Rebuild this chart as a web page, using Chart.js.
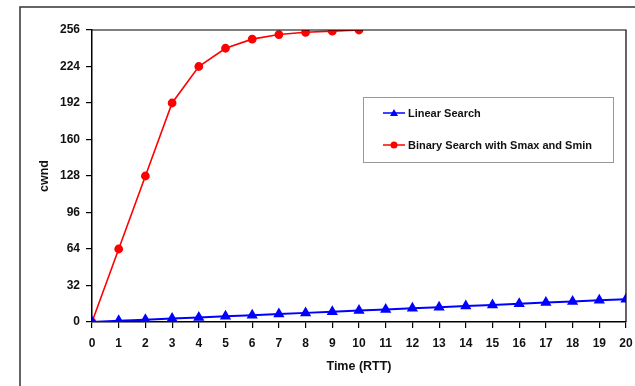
<!DOCTYPE html>
<html>
<head>
<meta charset="utf-8">
<script src="https://cdn.jsdelivr.net/npm/chart.js@4/dist/chart.umd.min.js"></script>
<style>
  html, body { margin: 0; padding: 0; background: #fff; }
  #wrap { width: 635px; height: 386px; position: relative; }
</style>
</head>
<body>
<div id="wrap"><canvas id="myChart" width="635" height="386"></canvas></div>
<script>
const rtt = [0, 1, 2, 3, 4, 5, 6, 7, 8, 9, 10, 11, 12, 13, 14, 15, 16, 17, 18, 19, 20];
const linearSearch = [0, 1, 2, 3, 4, 5, 6, 7, 8, 9, 10, 11, 12, 13, 14, 15, 16, 17, 18, 19, 20];
const binarySearch = [0, 64, 128, 192, 224, 240, 248, 252, 254, 255, 256];
const yTicks = [0, 32, 64, 96, 128, 160, 192, 224, 256];

const FONT = "'Liberation Sans', Arial, sans-serif";

// frame around the figure, box around the plot, and the legend
const framePlugin = {
  id: "frame",
  afterDraw(chart) {
    const c = chart.ctx;
    const a = chart.chartArea;
    c.save();
    c.strokeStyle = "#333";
    c.lineWidth = 1.5;
    c.beginPath();
    c.moveTo(20, 386);
    c.lineTo(20, 7);
    c.lineTo(635, 7);
    c.stroke();

    c.strokeStyle = "#000";
    c.lineWidth = 1.2;
    c.beginPath();
    c.moveTo(a.left, a.top);
    c.lineTo(a.right, a.top);
    c.lineTo(a.right, a.bottom);
    c.stroke();

    // legend
    c.strokeStyle = "#999";
    c.lineWidth = 1;
    c.strokeRect(363.5, 97.5, 250, 65);
    const items = chart.data.datasets;
    const rows = [113, 145];
    items.forEach((ds, i) => {
      const y = rows[i];
      c.strokeStyle = ds.borderColor;
      c.lineWidth = 1.5;
      c.beginPath();
      c.moveTo(383, y);
      c.lineTo(405, y);
      c.stroke();
      c.fillStyle = ds.backgroundColor;
      c.beginPath();
      if (ds.pointStyle === "triangle") {
        c.moveTo(394, y - 4);
        c.lineTo(398, y + 3);
        c.lineTo(390, y + 3);
        c.closePath();
      } else {
        c.arc(394, y, 3.5, 0, Math.PI * 2);
      }
      c.fill();
      c.fillStyle = "#111";
      c.font = "bold 11px " + FONT;
      c.textBaseline = "middle";
      c.fillText(ds.label, 408, y + 0.5);
    });
    c.restore();
  }
};

const ctx = document.getElementById("myChart");
const myChart = new Chart(ctx, {
  type: "line",
  data: {
    datasets: [
      {
        label: "Linear Search",
        data: linearSearch.map((v, i) => ({ x: rtt[i], y: v })),
        borderColor: "#0000ff",
        backgroundColor: "#0000ff",
        borderWidth: 2,
        pointStyle: "triangle",
        pointRadius: 4.5,
        tension: 0,
      },
      {
        label: "Binary Search with Smax and Smin",
        data: binarySearch.map((v, i) => ({ x: rtt[i], y: v })),
        borderColor: "#ff0000",
        backgroundColor: "#ff0000",
        borderWidth: 1.6,
        pointStyle: "circle",
        pointRadius: 3.6,
        tension: 0,
      },
    ],
  },
  options: {
    responsive: false,
    animation: false,
    layout: { padding: { top: 30, right: 9, left: 0, bottom: 0 } },
    plugins: { legend: { display: false }, tooltip: { enabled: false } },
    scales: {
      x: {
        type: "linear",
        min: 0,
        max: 20,
        afterFit: (s) => { s.height = 64; s.paddingRight = 0; s.paddingLeft = 0; },
        afterBuildTicks: (s) => { s.ticks = rtt.map((v) => ({ value: v })); },
        grid: { drawOnChartArea: false, color: "#000", tickLength: 6, lineWidth: 1.2 },
        border: { color: "#000", width: 1.5 },
        ticks: { color: "#111", font: { family: FONT, size: 12, weight: "bold" }, padding: 8, maxRotation: 0, autoSkip: false },
        title: { display: true, text: "Time (RTT)", color: "#111", font: { family: FONT, size: 12.5, weight: "bold" }, padding: { top: 2, bottom: 12 } },
      },
      y: {
        min: 0,
        max: 256,
        afterFit: (s) => { s.width = 92; s.paddingTop = 0; s.paddingBottom = 0; },
        afterBuildTicks: (s) => { s.ticks = yTicks.map((v) => ({ value: v })); },
        grid: { drawOnChartArea: false, color: "#000", tickLength: 6, lineWidth: 1.2 },
        border: { color: "#000", width: 1.5 },
        ticks: { color: "#111", font: { family: FONT, size: 12, weight: "bold" }, padding: 6 },
        title: { display: true, text: "cwnd", color: "#111", font: { family: FONT, size: 12.5, weight: "bold" }, padding: { top: 37, bottom: 0 } },
      },
    },
  },
  plugins: [framePlugin],
});
</script>
</body>
</html>
